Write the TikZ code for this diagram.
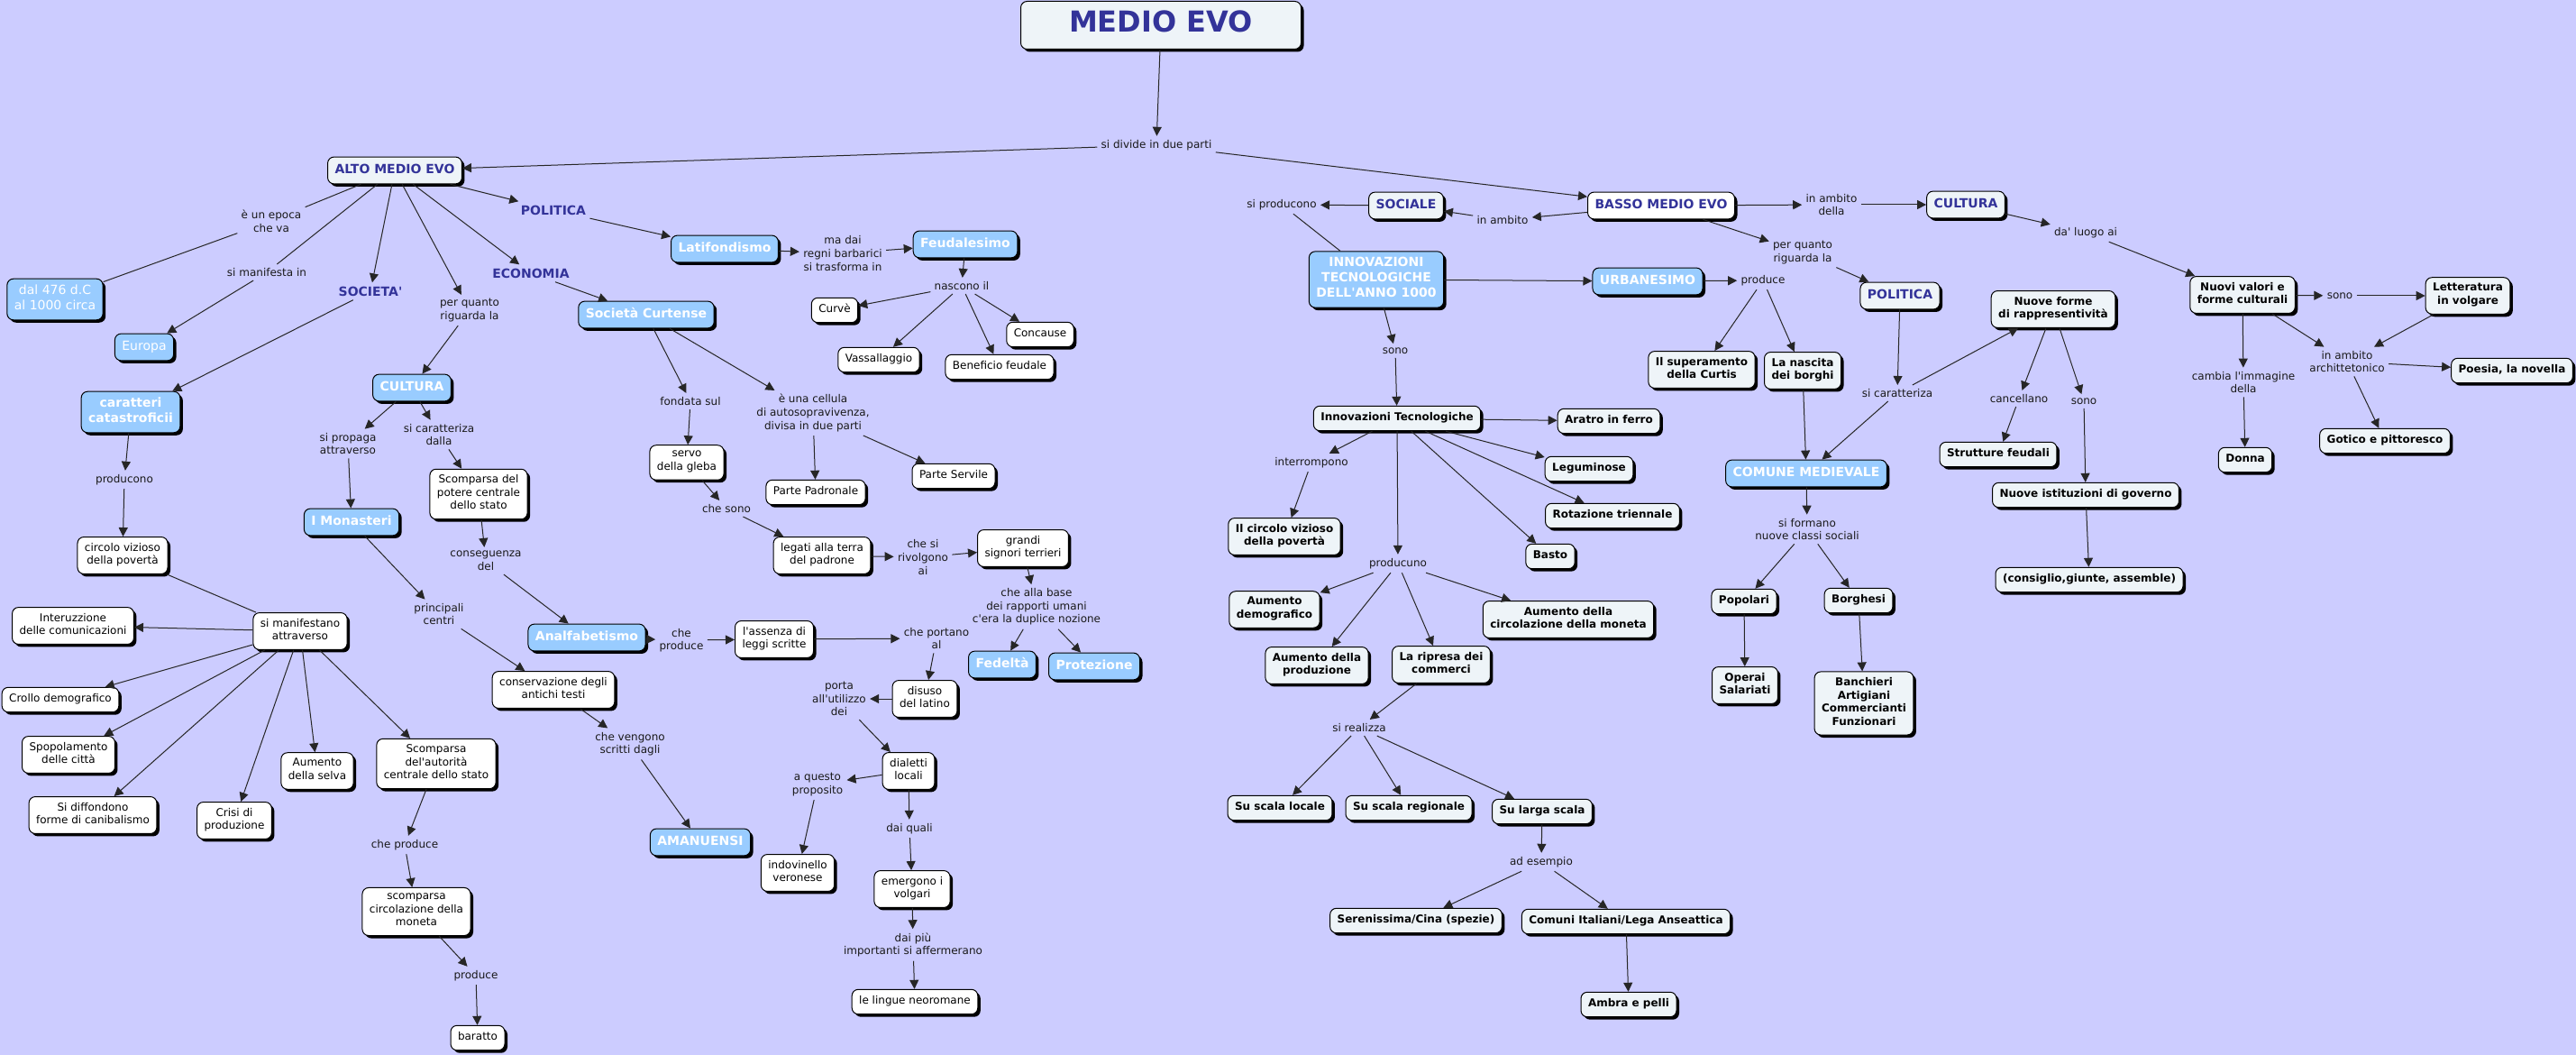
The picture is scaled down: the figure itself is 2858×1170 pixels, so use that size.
\documentclass[tikz,border=0pt]{standalone}
\usepackage{fontspec}
\setmainfont{DejaVu Sans}
\usetikzlibrary{arrows.meta,shadows}
\definecolor{bgc}{HTML}{CCCCFF}
\definecolor{lblue}{HTML}{99CCFF}
\definecolor{pale}{HTML}{EEF4F8}
\definecolor{navy}{HTML}{333399}
\newcommand\ap{\textquotesingle}
\tikzset{
 box/.style={draw=black, line width=0.5pt, rounded corners=3.5pt, inner xsep=4pt, inner ysep=3.2pt, align=center,
   execute at begin node=\strut, execute at end node=\strut,
   drop shadow={shadow xshift=1.5pt, shadow yshift=-1.5pt, fill=black, opacity=1}},
 wbox/.style={box, fill=white, font=\fontsize{6}{7.3}\selectfont},
 bbox/.style={box, fill=lblue, text=white, font=\fontsize{7}{8.5}\selectfont\bfseries},
 brbox/.style={box, fill=lblue, text=white, font=\fontsize{7}{8.5}\selectfont},
 pbox/.style={box, fill=pale, font=\fontsize{6}{7.3}\selectfont\bfseries},
 hbox/.style={box, fill=pale, text=navy, font=\fontsize{7}{8.5}\selectfont\bfseries},
 lab/.style={inner sep=2pt, align=center, text=black!90, font=\fontsize{6}{7.3}\selectfont},
 head/.style={inner sep=2pt, text=navy, font=\fontsize{7}{8.5}\selectfont\bfseries},
 ar/.style={-{Triangle[length=5pt,width=5pt]}, line width=0.5pt, black!85},
 ln/.style={line width=0.5pt, black!85},
}
\begin{document}
\begin{tikzpicture}[x=0.5pt,y=-0.5pt]
\fill[bgc] (0,0) rectangle (2858,1170);
\useasboundingbox (0,0) rectangle (2858,1170);
% ---------- top
\node[hbox, font=\fontsize{16}{19}\selectfont\bfseries, minimum width=155.5pt, minimum height=26.5pt] (medio) at (1288,28) {MEDIO EVO};
\node[lab] (divide) at (1283,161) {si divide in due parti};
\node[hbox] (alto) at (438,189) {ALTO MEDIO EVO};
\node[wbox, text=navy, font=\fontsize{7}{8.5}\selectfont\bfseries] (basso) at (1843,228) {BASSO MEDIO EVO};
% ---------- alto medio evo
\node[lab] (epoca) at (301,245) {è un epoca\\che va};
\node[brbox] (dal) at (61,332) {dal 476 d.C\\al 1000 circa};
\node[lab] (manif) at (296,302) {si manifesta in};
\node[brbox] (europa) at (160,385) {Europa};
\node[head] (societa) at (411,323) {SOCIETA\ap};
\node[bbox] (caratteri) at (145,457) {caratteri\\catastroficii};
\node[lab] (pqL) at (521,344) {per quanto\\riguarda la};
\node[bbox] (culturaL) at (457,430) {CULTURA};
\node[head] (economia) at (589,303) {ECONOMIA};
\node[head] (politicaL) at (614,233) {POLITICA};
\node[bbox] (latif) at (804,276) {Latifondismo};
\node[lab] (madai) at (935,281) {ma dai\\regni barbarici\\si trasforma in};
\node[bbox] (feudal) at (1071,271) {Feudalesimo};
\node[lab] (nascono) at (1067,317) {nascono il};
\node[wbox] (curve) at (926,344) {Curvè};
\node[wbox] (vassal) at (975,399) {Vassallaggio};
\node[wbox] (benef) at (1109,407) {Beneficio feudale};
\node[wbox] (concause) at (1154,371) {Concause};
\node[bbox] (soccurt) at (717,349) {Società Curtense};
\node[lab] (fondata) at (766,445) {fondata sul};
\node[lab] (cellula) at (902,458) {è una cellula\\di autosopravivenza,\\divisa in due parti};
\node[wbox] (servo) at (762,513) {servo\\della gleba};
\node[wbox] (padron) at (905,546) {Parte Padronale};
\node[wbox] (servile) at (1058,528) {Parte Servile};
\node[lab] (chesono) at (806,564) {che sono};
\node[wbox] (legati) at (912,616) {legati alla terra\\del padrone};
\node[lab] (rivolg) at (1024,618) {che si\\rivolgono\\ai};
\node[wbox] (grandi) at (1135,608) {grandi\\signori terrieri};
\node[lab] (allabase) at (1150,673) {che alla base\\dei rapporti umani\\c\ap era la duplice nozione};
\node[bbox] (fedelta) at (1112,737) {Fedeltà};
\node[bbox] (protez) at (1214,739) {Protezione};
\node[lab] (propaga) at (386,492) {si propaga\\attraverso};
\node[lab] (caratL) at (487,482) {si caratteriza\\dalla};
\node[bbox] (monast) at (390,579) {I Monasteri};
\node[wbox] (scomppot) at (531,548) {Scomparsa del\\potere centrale\\dello stato};
\node[lab] (conseg) at (539,622) {conseguenza\\del};
\node[bbox] (analf) at (651,707) {Analfabetismo};
\node[lab] (princ) at (487,681) {principali\\centri};
\node[wbox] (conserv) at (614,765) {conservazione degli\\antichi testi};
\node[lab] (vengono) at (699,825) {che vengono\\scritti dagli};
\node[bbox] (amanu) at (777,934) {AMANUENSI};
\node[lab] (cheprod) at (756,710) {che\\produce};
\node[wbox] (assenza) at (859,709) {l\ap assenza di\\leggi scritte};
\node[lab] (portano) at (1039,708) {che portano\\al};
\node[wbox] (disuso) at (1026,775) {disuso\\del latino};
\node[lab] (portaut) at (931,775) {porta\\all\ap utilizzo\\dei};
\node[wbox] (dialetti) at (1008,855) {dialetti\\locali};
\node[lab] (aquesto) at (907,870) {a questo\\proposito};
\node[wbox] (indov) at (885,968) {indovinello\\veronese};
\node[lab] (daiquali) at (1009,919) {dai quali};
\node[wbox] (emerg) at (1012,986) {emergono i\\volgari};
\node[lab] (daipiu) at (1013,1048) {dai più\\importanti si affermerano};
\node[wbox] (lingue) at (1015,1111) {le lingue neoromane};
\node[lab] (producono) at (138,532) {producono};
\node[wbox] (circolo) at (136,616) {circolo vizioso\\della povertà};
\node[wbox] (simanif) at (333,700) {si manifestano\\attraverso};
\node[wbox] (interuz) at (81,694) {Interuzzione\\delle comunicazioni};
\node[wbox] (crollo) at (67,776) {Crollo demografico};
\node[wbox] (spopol) at (76,837) {Spopolamento\\delle città};
\node[wbox] (diffond) at (103,904) {Si diffondono\\forme di canibalismo};
\node[wbox] (crisi) at (260,910) {Crisi di\\produzione};
\node[wbox] (selva) at (352,855) {Aumento\\della selva};
\node[wbox] (scompaut) at (484,847) {Scomparsa\\del\ap autorità\\centrale dello stato};
\node[lab] (cheprod2) at (449,937) {che produce};
\node[wbox] (scompcirc) at (462,1011) {scomparsa\\circolazione della\\moneta};
\node[lab] (produce2) at (528,1082) {produce};
\node[wbox] (baratto) at (530,1151) {baratto};
% ---------- basso medio evo
\node[lab] (inamb) at (1667,244) {in ambito};
\node[hbox] (sociale) at (1560,228) {SOCIALE};
\node[lab] (siprod) at (1422,227) {si producono};
\node[bbox] (innov) at (1527,310) {INNOVAZIONI\\TECNOLOGICHE\\DELL\ap ANNO 1000};
\node[bbox] (urban) at (1828,312) {URBANESIMO};
\node[lab] (produceR) at (1956,311) {produce};
\node[pbox] (superam) at (1888,410) {Il superamento\\della Curtis};
\node[pbox] (nascita) at (2000,411) {La nascita\\dei borghi};
\node[lab] (inambd) at (2032,227) {in ambito\\della};
\node[hbox] (culturaR) at (2181,227) {CULTURA};
\node[lab] (pqR) at (2000,280) {per quanto\\riguarda la};
\node[hbox] (politicaR) at (2108,328) {POLITICA};
\node[lab] (caratR) at (2105,436) {si caratteriza};
\node[bbox] (comune) at (2004,525) {COMUNE MEDIEVALE};
\node[pbox] (nuoveforme) at (2278,343) {Nuove forme\\di rappresentività};
\node[lab] (cancell) at (2240,442) {cancellano};
\node[pbox] (strutt) at (2217,504) {Strutture feudali};
\node[lab] (sonoA) at (2312,445) {sono};
\node[pbox] (istit) at (2314,549) {Nuove istituzioni di governo};
\node[pbox] (consig) at (2318,643) {(consiglio,giunte, assemble)};
\node[lab] (siform) at (2005,587) {si formano\\nuove classi sociali};
\node[pbox] (popol) at (1935,667) {Popolari};
\node[pbox] (borgh) at (2062,666) {Borghesi};
\node[pbox] (operai) at (1936,760) {Operai\\Salariati};
\node[pbox] (banch) at (2068,780) {Banchieri\\Artigiani\\Commercianti\\Funzionari};
\node[lab] (daluogo) at (2314,258) {da\ap{} luogo ai};
\node[pbox] (nuovival) at (2488,327) {Nuovi valori e\\forme culturali};
\node[lab] (sonoB) at (2596,328) {sono};
\node[pbox] (letter) at (2738,328) {Letteratura\\in volgare};
\node[lab] (cambia) at (2489,424) {cambia l\ap immagine\\della};
\node[pbox] (donna) at (2491,510) {Donna};
\node[lab] (archit) at (2604,401) {in ambito\\archittetonico};
\node[pbox] (gotico) at (2646,489) {Gotico e pittoresco};
\node[pbox] (poesia) at (2787,411) {Poesia, la novella};
\node[lab] (sonoC) at (1548,389) {sono};
\node[pbox] (inntec) at (1550,464) {Innovazioni Tecnologiche};
\node[pbox] (aratro) at (1785,467) {Aratro in ferro};
\node[pbox] (legum) at (1763,520) {Leguminose};
\node[pbox] (rotaz) at (1789,572) {Rotazione triennale};
\node[pbox] (basto) at (1720,617) {Basto};
\node[lab] (interr) at (1455,513) {interrompono};
\node[pbox] (circoloR) at (1425,595) {Il circolo vizioso\\della povertà};
\node[lab] (producuno) at (1551,625) {producuno};
\node[pbox] (aumdemo) at (1414,676) {Aumento\\demografico};
\node[pbox] (aumprod) at (1461,738) {Aumento della\\produzione};
\node[pbox] (ripresa) at (1599,737) {La ripresa dei\\commerci};
\node[pbox] (aumcirc) at (1740,687) {Aumento della\\circolazione della moneta};
\node[lab] (sireal) at (1508,807) {si realizza};
\node[pbox] (locale) at (1420,896) {Su scala locale};
\node[pbox] (regio) at (1563,896) {Su scala regionale};
\node[pbox] (larga) at (1711,900) {Su larga scala};
\node[lab] (adesem) at (1710,956) {ad esempio};
\node[pbox] (seren) at (1571,1021) {Serenissima/Cina (spezie)};
\node[pbox] (comuniit) at (1804,1022) {Comuni Italiani/Lega Anseattica};
\node[pbox] (ambra) at (1807,1114) {Ambra e pelli};
% ---------- connectors: top
\draw[ar] (medio) -- (divide);
\draw[ar] (divide) -- (alto);
\draw[ar] (divide) -- (basso);
% alto
\draw[ln] (alto) -- (epoca); \draw[ln] (epoca) -- (dal);
\draw[ln] (alto) -- (manif); \draw[ar] (manif) -- (europa);
\draw[ar] (alto) -- (societa); \draw[ar] (societa) -- (caratteri);
\draw[ar] (alto) -- (pqL); \draw[ar] (pqL) -- (culturaL);
\draw[ar] (alto) -- (economia); \draw[ar] (economia) -- (soccurt);
\draw[ar] (alto) -- (politicaL); \draw[ar] (politicaL) -- (latif);
\draw[ar] (latif) -- (madai); \draw[ar] (madai) -- (feudal);
\draw[ar] (feudal) -- (nascono);
\foreach \t in {curve,vassal,benef,concause} \draw[ar] (nascono) -- (\t);
\draw[ar] (soccurt) -- (fondata); \draw[ar] (fondata) -- (servo);
\draw[ar] (soccurt) -- (cellula); \draw[ar] (cellula) -- (padron); \draw[ar] (cellula) -- (servile);
\draw[ar] (servo) -- (chesono); \draw[ar] (chesono) -- (legati);
\draw[ar] (legati) -- (rivolg); \draw[ar] (rivolg) -- (grandi);
\draw[ar] (grandi) -- (allabase); \draw[ar] (allabase) -- (fedelta); \draw[ar] (allabase) -- (protez);
\draw[ar] (culturaL) -- (propaga); \draw[ar] (propaga) -- (monast);
\draw[ar] (culturaL) -- (caratL); \draw[ar] (caratL) -- (scomppot);
\draw[ar] (scomppot) -- (conseg); \draw[ar] (conseg) -- (analf);
\draw[ar] (monast) -- (princ); \draw[ar] (princ) -- (conserv);
\draw[ar] (conserv) -- (vengono); \draw[ar] (vengono) -- (amanu);
\draw[ar] (analf) -- (cheprod); \draw[ar] (cheprod) -- (assenza);
\draw[ar] (assenza) -- (portano); \draw[ar] (portano) -- (disuso);
\draw[ar] (disuso) -- (portaut); \draw[ar] (portaut) -- (dialetti);
\draw[ar] (dialetti) -- (aquesto); \draw[ar] (aquesto) -- (indov);
\draw[ar] (dialetti) -- (daiquali); \draw[ar] (daiquali) -- (emerg);
\draw[ar] (emerg) -- (daipiu); \draw[ar] (daipiu) -- (lingue);
\draw[ar] (caratteri) -- (producono); \draw[ar] (producono) -- (circolo);
\draw[ln] (circolo) -- (simanif);
\foreach \t in {interuz,crollo,spopol,diffond,crisi,selva,scompaut} \draw[ar] (simanif) -- (\t);
\draw[ar] (scompaut) -- (cheprod2); \draw[ar] (cheprod2) -- (scompcirc);
\draw[ar] (scompcirc) -- (produce2); \draw[ar] (produce2) -- (baratto);
% basso
\draw[ar] (basso) -- (inamb); \draw[ar] (inamb) -- (sociale);
\draw[ar] (sociale) -- (siprod); \draw[ln] (siprod) -- (innov);
\draw[ar] (innov) -- (urban);
\draw[ar] (urban) -- (produceR); \draw[ar] (produceR) -- (superam); \draw[ar] (produceR) -- (nascita);
\draw[ar] (nascita) -- (comune);
\draw[ar] (basso) -- (inambd); \draw[ar] (inambd) -- (culturaR);
\draw[ar] (basso) -- (pqR); \draw[ar] (pqR) -- (politicaR);
\draw[ar] (politicaR) -- (caratR); \draw[ar] (caratR) -- (comune); \draw[ar] (caratR) -- (nuoveforme);
\draw[ar] (nuoveforme) -- (cancell); \draw[ar] (cancell) -- (strutt);
\draw[ar] (nuoveforme) -- (sonoA); \draw[ar] (sonoA) -- (istit);
\draw[ar] (istit) -- (consig);
\draw[ar] (comune) -- (siform); \draw[ar] (siform) -- (popol); \draw[ar] (siform) -- (borgh);
\draw[ar] (popol) -- (operai); \draw[ar] (borgh) -- (banch);
\draw[ar] (culturaR) -- (daluogo); \draw[ar] (daluogo) -- (nuovival);
\draw[ar] (nuovival) -- (sonoB); \draw[ar] (sonoB) -- (letter);
\draw[ar] (nuovival) -- (cambia); \draw[ar] (cambia) -- (donna);
\draw[ar] (nuovival) -- (archit); \draw[ar] (archit) -- (gotico); \draw[ar] (archit) -- (poesia);
\draw[ar] (letter) -- (archit);
\draw[ar] (innov) -- (sonoC); \draw[ar] (sonoC) -- (inntec);
\foreach \t in {aratro,legum,rotaz,basto} \draw[ar] (inntec) -- (\t);
\draw[ar] (inntec) -- (interr); \draw[ar] (interr) -- (circoloR);
\draw[ar] (inntec) -- (producuno);
\foreach \t in {aumdemo,aumprod,ripresa,aumcirc} \draw[ar] (producuno) -- (\t);
\draw[ar] (ripresa) -- (sireal);
\foreach \t in {locale,regio,larga} \draw[ar] (sireal) -- (\t);
\draw[ar] (larga) -- (adesem); \draw[ar] (adesem) -- (seren); \draw[ar] (adesem) -- (comuniit);
\draw[ar] (comuniit) -- (ambra);
\end{tikzpicture}
\end{document}
